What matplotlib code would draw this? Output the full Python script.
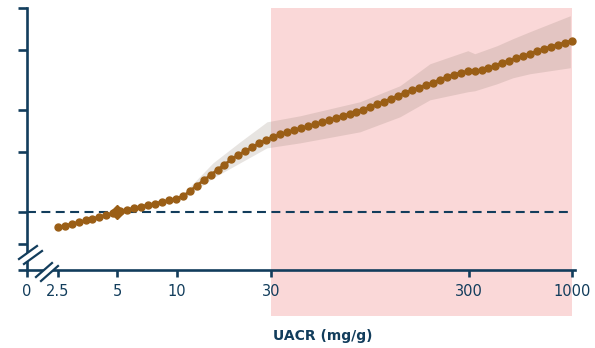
import matplotlib
matplotlib.use("Agg")
import matplotlib.pyplot as plt
from matplotlib.patches import Rectangle, Polygon
from matplotlib.lines import Line2D
import matplotlib.transforms as mtransforms

# ---------------- data ----------------
uacr = [2.5, 2.711, 2.939, 3.187, 3.455, 3.747, 4.062, 4.405, 4.776, 5.179,
        5.615, 6.089, 6.602, 7.158, 7.762, 8.416, 9.125, 9.895, 10.73, 11.63,
        12.61, 13.68, 14.83, 16.08, 17.44, 18.91, 20.50, 22.23, 24.10, 26.13,
        28.34, 30.72, 33.31, 36.12, 39.17, 42.47, 46.05, 49.93, 54.14, 58.70,
        63.65, 69.02, 74.84, 81.15, 87.99, 95.41, 103.5, 112.2, 121.6, 131.9,
        143.0, 155.1, 168.1, 182.3, 197.7, 214.4, 232.4, 252.0, 273.3, 296.3,
        321.3, 348.4, 377.8, 409.6, 444.2, 481.6, 522.2, 566.3, 614.0, 665.8,
        721.9, 782.8, 848.8, 920.4, 998.0]
hr = [0.898, 0.908, 0.920, 0.930, 0.942, 0.953, 0.965, 0.978, 0.991, 1.003,
      1.014, 1.025, 1.035, 1.046, 1.057, 1.068, 1.080, 1.093, 1.109, 1.148,
      1.193, 1.237, 1.282, 1.329, 1.377, 1.427, 1.472, 1.507, 1.549, 1.592,
      1.627, 1.661, 1.692, 1.716, 1.740, 1.766, 1.788, 1.812, 1.837, 1.862,
      1.890, 1.916, 1.946, 1.973, 2.004, 2.039, 2.077, 2.115, 2.156, 2.200,
      2.243, 2.285, 2.324, 2.364, 2.404, 2.455, 2.497, 2.540, 2.575, 2.600,
      2.609, 2.618, 2.654, 2.700, 2.756, 2.794, 2.842, 2.884, 2.930, 2.980,
      3.031, 3.073, 3.115, 3.158, 3.202]

ci_x = [11.0, 15.25, 20.9, 28.6, 42.0, 84.5, 134.6, 190.8, 297.0, 322.0,
        417.0, 502.0, 612.0, 980.0]
ci_upper = [1.144, 1.394, 1.608, 1.843, 1.920, 2.113, 2.356, 2.736, 2.991, 2.930,
            3.094, 3.246, 3.404, 3.796]
ci_lower = [1.098, 1.258, 1.394, 1.544, 1.597, 1.722, 1.907, 2.141, 2.262, 2.277,
            2.388, 2.488, 2.557, 2.664]

ref_x, ref_y = 5, 1.0

x_ticks = [2.5, 5, 10, 30, 300, 1000]
x_ticklabels = ["2.5", "5", "10", "30", "300", "1000"]
y_ticks = [0.8, 1, 1.5, 2, 3, 4]
shade_range = (30, 1000)
xlabel = "UACR (mg/g)"

# ---------------- style ----------------
NAVY = "#123d5c"
BROWN = "#9a5e16"
PINK = "#fad8d8"
BAND = "#8a7a6a"

W, H = 595, 348
fig = plt.figure(figsize=(W / 100, H / 100), dpi=100)
ax_l, ax_r, ax_t, ax_b = 27, 575, 8, 269.5
ax = fig.add_axes([ax_l / W, 1 - ax_b / H, (ax_r - ax_l) / W, (ax_b - ax_t) / H])
ax.patch.set_alpha(0)

ax.set_xscale("log")
ax.set_yscale("log")
x_left, x_right = 1.747, 1035
y_bottom, y_top = 0.6745, 4.0
ax.set_xlim(x_left, x_right)
ax.set_ylim(y_bottom, y_top)

# pink shaded region (extends below axis)
trans = mtransforms.blended_transform_factory(ax.transData, fig.transFigure)
rect = Rectangle((shade_range[0], 1 - 316 / H), shade_range[1] - shade_range[0],
                 (316 - 8) / H, transform=trans, facecolor=PINK, edgecolor="none",
                 zorder=0.5, clip_on=False)
ax.add_patch(rect)

# reference line
ax.axhline(1, xmin=0, xmax=(570 - 27) / (575 - 27), color=NAVY, lw=1.5,
           dashes=(4.3, 2.6), zorder=1.5)

# confidence band
ax.fill_between(ci_x, ci_lower, ci_upper, color=BAND, alpha=0.2, lw=0, zorder=1)

# curve
ax.plot(uacr, hr, color=BROWN, lw=2, marker="o", ms=5.0, mec=BROWN, mfc=BROWN,
        zorder=3, clip_on=False)
ax.plot([ref_x], [ref_y], marker="D", ms=6.8, color=BROWN, zorder=4)

# spines
for s in ["top", "right"]:
    ax.spines[s].set_visible(False)
for s in ["left", "bottom"]:
    ax.spines[s].set_color(NAVY)
    ax.spines[s].set_linewidth(1.9)

ax.xaxis.set_minor_locator(matplotlib.ticker.NullLocator())
ax.yaxis.set_minor_locator(matplotlib.ticker.NullLocator())
ax.set_xticks([x_left] + x_ticks)
ax.set_xticklabels(["0"] + x_ticklabels)
ax.set_yticks([y_bottom] + y_ticks)
ax.set_yticklabels([])

ax.tick_params(axis="x", direction="out", length=5.2, width=1.9, color=NAVY,
               labelcolor=NAVY, labelsize=10.5, pad=5)
ax.tick_params(axis="y", direction="out", length=6.5, width=1.9, color=NAVY)
for t in ax.get_xticklabels():
    t.set_fontfamily("DejaVu Sans")
xt = ax.xaxis.get_major_ticks()
for tk in xt[-2:]:
    tk.tick1line.set_color(BROWN)

fig.text(322.5 / W, 1 - 336 / H, xlabel, ha="center", va="center",
         fontsize=10, fontweight="bold", color=NAVY)

# axis break marks (figure pixel coords)
def px(x, y):
    return (x / W, 1 - y / H)

def brk(a0, a1, b0, b1):
    poly = Polygon([px(*a0), px(*a1), px(*b1), px(*b0)], closed=True,
                   transform=fig.transFigure, facecolor="white", edgecolor="none",
                   zorder=10)
    fig.add_artist(poly)
    for p0, p1 in [(a0, a1), (b0, b1)]:
        fig.add_artist(Line2D([px(*p0)[0], px(*p1)[0]], [px(*p0)[1], px(*p1)[1]],
                              transform=fig.transFigure, color=NAVY, lw=1.6,
                              zorder=11))

brk((19, 259), (37, 246), (24, 264), (42, 251))
brk((36, 277), (52, 263), (41, 281), (58, 266))

fig.savefig("out.png", dpi=100)
